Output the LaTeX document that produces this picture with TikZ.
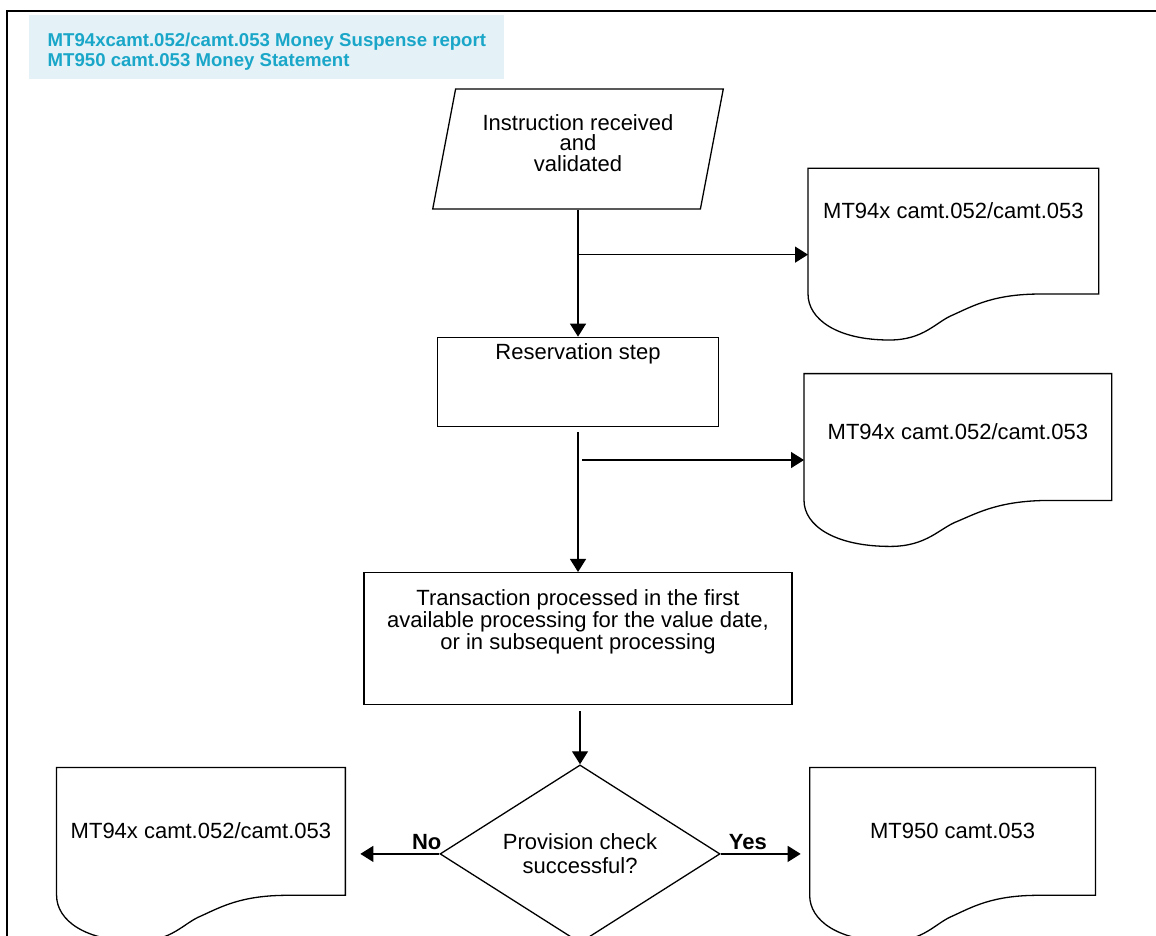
\documentclass[tikz,border=0pt]{standalone}
\usepackage{fontspec}
\setmainfont{Liberation Sans}
\usetikzlibrary{positioning,shapes.geometric,arrows.meta,calc}

\definecolor{headfill}{HTML}{E4F2F7}
\definecolor{headtext}{HTML}{1AA6C8}

% outline of a document symbol round a named node
\newcommand{\docoutline}[1]{%
  \draw[shapeline] (#1.south west) -- (#1.north west) -- (#1.north east) -- (#1.south east)
    -- ($(#1.south west)!0.8!(#1.south east)$)
    .. controls ($(#1.south west)!0.64!(#1.south east)$) and ($(#1.south west)!0.57!(#1.south east)+(0,-5.75pt)$) .. ($(#1.south west)!0.5!(#1.south east)+(0,-10.35pt)$)
    .. controls ($(#1.south west)!0.44!(#1.south east)+(0,-13.8pt)$) and ($(#1.south west)!0.4!(#1.south east)+(0,-23pt)$) .. ($(#1.south west)!0.28!(#1.south east)+(0,-23pt)$)
    .. controls ($(#1.south west)!0.1!(#1.south east)+(0,-23pt)$) and ($(#1.south west)+(0,-12.6pt)$) .. (#1.south west);
}

\begin{document}
\begin{tikzpicture}[node distance=2cm,
  every node/.style={font=\fontsize{11}{10.5}\selectfont},
  shapeline/.style={draw, line width=0.65pt},
  flow/.style={line width=0.65pt, -{Triangle[length=6.5pt,width=8pt]}},
  iobox/.style={draw, line width=0.65pt, trapezium, trapezium left angle=75.5, trapezium right angle=104.5,
    trapezium stretches=true, minimum width=145.5pt, minimum height=60pt, inner sep=0pt, align=center,
    font=\fontsize{11}{10.25}\selectfont},
  stepbox/.style={draw, line width=0.65pt, rectangle, inner sep=0pt, align=center},
  docbox/.style={rectangle, inner sep=0pt, align=center},
  checkbox/.style={draw, line width=0.65pt, diamond, aspect=1.57, minimum width=140pt, minimum height=89pt,
    inner sep=0pt, align=center, font=\fontsize{11}{12}\selectfont},
  answer/.style={above, inner sep=2pt, font=\fontsize{11}{12}\selectfont\bfseries}]

  \useasboundingbox (0,0) rectangle (578pt,-468pt);

  % Frame
  \draw[line width=0.9pt] (3.5pt,-480pt) -- (3.5pt,-5.5pt) -- (600pt,-5.5pt);

  % Nodes
  \node (header) [fill=headfill, minimum width=237.5pt, text height=25.75pt, text depth=6.25pt, anchor=north west,
    inner sep=0pt, align=left, text=headtext, font=\fontsize{9.3}{10}\selectfont\bfseries] at (14.5pt,-7.5pt)
    {MT94xcamt.052/camt.053 Money Suspense report\\MT950 camt.053 Money Statement};
  \node (instr) [iobox, text depth=6pt] at (289pt,-74.5pt) {Instruction received\\and\\validated};
  \node (reserve) [stepbox, minimum width=140.5pt, text height=11pt, text depth=33.5pt, below=63.5pt of instr] {Reservation step};
  \node (trans) [stepbox, minimum width=214pt, text height=38.5pt, text depth=27.5pt, below=72.5pt of reserve,
    font=\fontsize{11}{11}\selectfont]
    {Transaction processed in the first\\available processing for the value date,\\or in subsequent processing};
  \node (check) [checkbox, below=29.5pt of trans, xshift=1pt] {Provision check\\successful?};

  \coordinate (split1) at ($(instr.south)!0.354!(reserve.north)$);
  \coordinate (split2) at ($(reserve.south)!0.228!(trans.north)+(2pt,0)$);

  \node (doc1) [docbox, minimum width=145pt, text height=25pt, text depth=37.5pt, right=115pt of split1, yshift=11.75pt] {MT94x camt.052/camt.053};
  \node (doc2) [docbox, minimum width=153.5pt, text height=32.5pt, text depth=30.5pt, right=111pt of split2, yshift=11.5pt] {MT94x camt.052/camt.053};
  \node (doc3) [docbox, minimum width=144pt, text height=35.5pt, text depth=28pt, left=47pt of check, yshift=11.25pt] {MT94x camt.052/camt.053};
  \node (doc4) [docbox, minimum width=142.5pt, text height=35.5pt, text depth=28pt, right=44.5pt of check, yshift=11.25pt] {MT950 camt.053};

  \docoutline{doc1}
  \docoutline{doc2}
  \docoutline{doc3}
  \docoutline{doc4}

  % Arrows
  \draw[flow] (instr.south) -- (reserve.north);
  \draw[flow] (split1) -- (split1 -| doc1.west);
  \draw[flow] ([yshift=-2.5pt]reserve.south) -- (trans.north);
  \draw[flow] (split2) -- (split2 -| doc2.west);
  \draw[flow] ([yshift=-3pt]check.north |- trans.south) -- (check.north);
  \draw[flow] (check.west) -- ([xshift=7.5pt]doc3.east |- check.west) node[answer, pos=0.16] {No};
  \draw[flow] (check.east) -- ([xshift=-4.5pt]doc4.west |- check.east) node[answer, pos=0.34] {Yes};

\end{tikzpicture}
\end{document}
